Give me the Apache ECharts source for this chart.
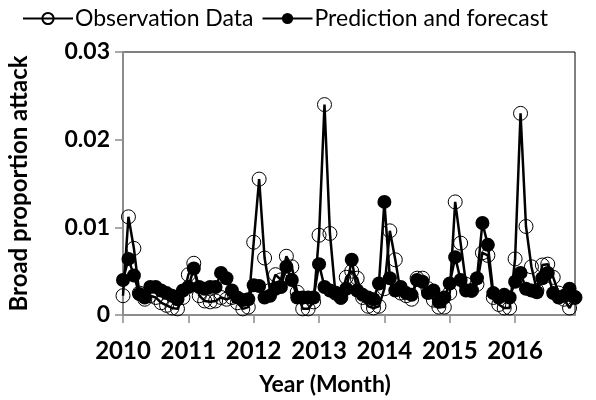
<!DOCTYPE html>
<html>
<head>
<meta charset="utf-8">
<script src="https://cdn.jsdelivr.net/npm/echarts@6/dist/echarts.min.js"></script>
<style>
html,body{margin:0;padding:0;background:#fff;}
#chart{width:596px;height:400px;}
</style>
</head>
<body>
<div id="chart"></div>
<script>
// Tick labels (one per year, 12 monthly points each)
const years = ['2010','2011','2012','2013','2014','2015','2016'];
const months = ['01','02','03','04','05','06','07','08','09','10','11','12'];

// Observation Data (monthly, Jan 2010 - Dec 2016)
const observation = [
  0.0022, 0.0112, 0.0076, 0.0025, 0.0018, 0.0022, 0.0020, 0.0014, 0.0011, 0.0008, 0.0007, 0.0020,
  0.0046, 0.0059, 0.0022, 0.0016, 0.0015, 0.0016, 0.0020, 0.0018, 0.0020, 0.0014, 0.0007, 0.0009,
  0.0083, 0.0155, 0.0065, 0.0028, 0.0046, 0.0040, 0.0067, 0.0055, 0.0026, 0.0007, 0.0007, 0.0015,
  0.0091, 0.0240, 0.0093, 0.0025, 0.0020, 0.0043, 0.0050, 0.0042, 0.0020, 0.0010, 0.0008, 0.0010,
  0.0030, 0.0096, 0.0063, 0.0025, 0.0022, 0.0018, 0.0042, 0.0042, 0.0030, 0.0017, 0.0009, 0.0009,
  0.0025, 0.0129, 0.0082, 0.0035, 0.0028, 0.0035, 0.0071, 0.0068, 0.0020, 0.0012, 0.0008, 0.0008,
  0.0064, 0.0230, 0.0101, 0.0055, 0.0028, 0.0057, 0.0058, 0.0043, 0.0025, 0.0018, 0.0008, 0.0020
];

// Prediction and forecast (monthly, Jan 2010 - Dec 2016)
const prediction = [
  0.0040, 0.0064, 0.0045, 0.0024, 0.0020, 0.0032, 0.0032, 0.0028, 0.0025, 0.0022, 0.0018, 0.0028,
  0.0032, 0.0053, 0.0032, 0.0030, 0.0032, 0.0032, 0.0048, 0.0042, 0.0028, 0.0020, 0.0017, 0.0018,
  0.0034, 0.0033, 0.0020, 0.0022, 0.0030, 0.0032, 0.0055, 0.0040, 0.0020, 0.0020, 0.0020, 0.0020,
  0.0058, 0.0032, 0.0028, 0.0025, 0.0020, 0.0030, 0.0063, 0.0028, 0.0023, 0.0020, 0.0018, 0.0036,
  0.0129, 0.0042, 0.0028, 0.0032, 0.0025, 0.0023, 0.0040, 0.0038, 0.0025, 0.0028, 0.0015, 0.0020,
  0.0036, 0.0066, 0.0040, 0.0028, 0.0028, 0.0042, 0.0105, 0.0080, 0.0025, 0.0020, 0.0023, 0.0020,
  0.0038, 0.0048, 0.0030, 0.0028, 0.0026, 0.0042, 0.0048, 0.0025, 0.0020, 0.0022, 0.0030, 0.0020
];

const categories = [];
years.forEach(y => months.forEach(m => categories.push(y + '-' + m)));

const FONT = 'Lato';
const chart = echarts.init(document.getElementById('chart'), null, {renderer: 'canvas'});
chart.setOption({
  animation: false,
  backgroundColor: '#ffffff',
  textStyle: {fontFamily: FONT},
  legend: {
    left: 17,
    top: 2,
    itemWidth: 50,
    itemHeight: 14,
    itemGap: 8,
    textStyle: {fontFamily: FONT, fontSize: 23, color: '#000', padding: [0, 0, 0, -3]},
    data: ['Observation Data', 'Prediction and forecast']
  },
  grid: {
    left: 123, top: 52, right: 21, bottom: 85,
    outerBoundsMode: 'none',
    containLabel: false,
    show: true, borderColor: '#000', borderWidth: 1
  },
  xAxis: {
    type: 'category',
    data: categories,
    boundaryGap: false,
    name: 'Year (Month)',
    nameLocation: 'middle',
    nameGap: 58,
    nameTextStyle: {fontFamily: FONT, fontSize: 23, fontWeight: 'bold', color: '#000', padding: [0, 48, 0, 0]},
    axisLine: {lineStyle: {color: '#8c8c8c', width: 2}},
    axisTick: {
      show: true, length: 8, inside: false,
      interval: (i) => i % 12 === 0,
      lineStyle: {color: '#8c8c8c', width: 1.5}
    },
    axisLabel: {
      interval: (i) => i % 12 === 0,
      formatter: (v) => v.slice(0, 4),
      fontFamily: FONT, fontSize: 24, fontWeight: 'bold', color: '#000', margin: 24
    },
    splitLine: {show: false}
  },
  yAxis: {
    type: 'value',
    min: 0, max: 0.03, interval: 0.01,
    name: 'Broad proportion attack',
    nameLocation: 'middle',
    nameGap: 92,
    nameTextStyle: {fontFamily: FONT, fontSize: 24, fontWeight: 'bold', color: '#000'},
    axisLine: {show: true, lineStyle: {color: '#8c8c8c', width: 2}},
    axisTick: {show: true, length: 8, lineStyle: {color: '#8c8c8c', width: 1.5}},
    axisLabel: {
      formatter: (v) => v === 0 ? '0' : v.toFixed(2),
      fontFamily: FONT, fontSize: 23, fontWeight: 'bold', color: '#000', margin: 13
    },
    splitLine: {show: false}
  },
  series: [
    {
      name: 'Observation Data',
      type: 'line',
      data: observation,
      symbol: 'circle',
      symbolSize: 14,
      showAllSymbol: true,
      lineStyle: {color: '#000', width: 2.5},
      itemStyle: {color: 'rgba(255,255,255,0)', borderColor: '#000', borderWidth: 1},
      z: 2
    },
    {
      name: 'Prediction and forecast',
      type: 'line',
      data: prediction,
      symbol: 'circle',
      symbolSize: 14,
      showAllSymbol: true,
      lineStyle: {color: '#000', width: 2.5},
      itemStyle: {color: '#000', borderColor: '#000', borderWidth: 0},
      z: 3
    }
  ]
});
</script>
</body>
</html>
